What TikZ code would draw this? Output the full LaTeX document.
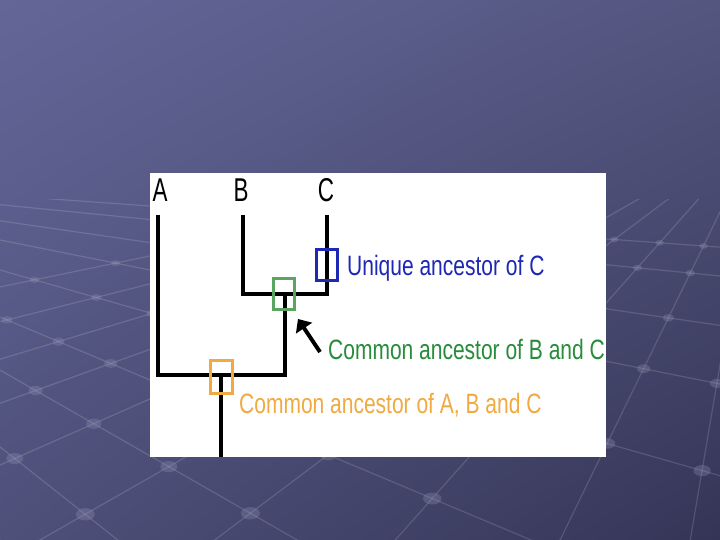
\documentclass[tikz,border=0pt]{standalone}
\usepackage{fontspec}
\newfontfamily\cladefont[FakeStretch=0.75]{Liberation Sans}
\newfontfamily\taxonfont[FakeStretch=0.68]{Liberation Sans}
\usetikzlibrary{arrows.meta,shadings,positioning}
\definecolor{bgTL}{RGB}{100,102,152}
\definecolor{bgTR}{RGB}{84,86,128}
\definecolor{bgBL}{RGB}{78,80,122}
\definecolor{bgBR}{RGB}{52,53,86}
\definecolor{uniqblue}{RGB}{30,40,180}
\definecolor{bcgreen}{RGB}{40,140,60}
\definecolor{bcbox}{RGB}{90,165,95}
\definecolor{abcorange}{RGB}{240,170,65}

\begin{document}
\begin{tikzpicture}[x=1pt,y=-1pt,
  branch/.style={line width=4pt,line join=miter},
  ancbox/.style={draw,line width=3pt,minimum width=21pt,minimum height=31pt,inner sep=0pt},
  taxon/.style={font=\taxonfont\fontsize{33}{33}\selectfont,anchor=base,inner sep=0pt},
  note/.style={font=\cladefont\fontsize{28}{28}\selectfont,anchor=base west,inner sep=0pt},
  pointer/.style={line width=4pt,-{Triangle[length=11pt,width=19pt]}},
  gridline/.style={draw=white,opacity=0.14,line width=1.2pt},
  griddot/.style={fill=bgTL!70!white,opacity=0.3}]
\useasboundingbox (0,0) rectangle (720,540);
\shade[upper left=bgTL,upper right=bgTR,lower left=bgBL,lower right=bgBR]
  (0,0) rectangle (720,540);

% floor grid of the slide
\def\leftrays{36,151,320,577,912,1505,2300,3300,5000,7000}
\def\rightrays{-2000,-1500,-1130,-825,-533,-241,2,253,482,663,816}
\begin{scope}
\clip (0,200) rectangle (720,540);
\coordinate (vl) at (-350,170);
\coordinate (vr) at (760,130);
\foreach \a in \leftrays
  \draw[gridline] (vl) -- (\a,700);
\foreach \b in \rightrays
  \draw[gridline] (vr) -- (\b,700);
\foreach \a in \leftrays{
  \foreach \b in \rightrays{
    \pgfmathsetmacro\ka{(\a+350)/530}
    \pgfmathsetmacro\kb{(\b-760)/570}
    \pgfmathsetmacro\ydot{(1110+170*\ka-130*\kb)/(\ka-\kb)}
    \pgfmathsetmacro\xdot{-350+\ka*(\ydot-170)}
    \pgfmathsetmacro\sdot{(\ydot-130)/410}
    \fill[griddot] (\xdot,\ydot)
      ellipse [x radius={2+8*\sdot}, y radius={1.5+5*\sdot}];}}
\end{scope}

\fill[white] (150,173) rectangle (606,457);

% taxa
\node[taxon] (A) at (160,202) {A};
\node[taxon] (B) at (241,202) {B};
\node[taxon] (C) at (326,202) {C};

\coordinate (tipA) at (158,215);
\coordinate (tipB) at (243,215);
\coordinate (tipC) at (327,215);
\coordinate (knotBC) at (285,294);
\coordinate (knotABC) at (221,375);
\coordinate (root) at (221,457);

\draw[branch] (tipB) |- (knotBC) -| (tipC);
\draw[branch] (tipA) |- (knotABC) -| (knotBC);
\draw[branch] (knotABC) -- (root);

% ancestors
\node[ancbox,draw=uniqblue] (boxC) at (326.5,265) {};
\node[ancbox,draw=bcbox] (boxBC) at (284,294) {};
\node[ancbox,draw=abcorange,minimum width=22pt,minimum height=33pt] (boxABC) at (221.5,377) {};

\node[note,text=uniqblue] (lblC) at (347,275) {Unique ancestor of C};
\node[note,text=bcgreen] (lblBC) at (328,359) {Common ancestor of B and C};
\node[note,text=abcorange] (lblABC) at (239,413) {Common ancestor of A, B and C};

\coordinate (ptail) at (320,352);
\coordinate (phead) at (298,319);
\draw[pointer] (ptail) -- (phead);
\end{tikzpicture}
\end{document}
